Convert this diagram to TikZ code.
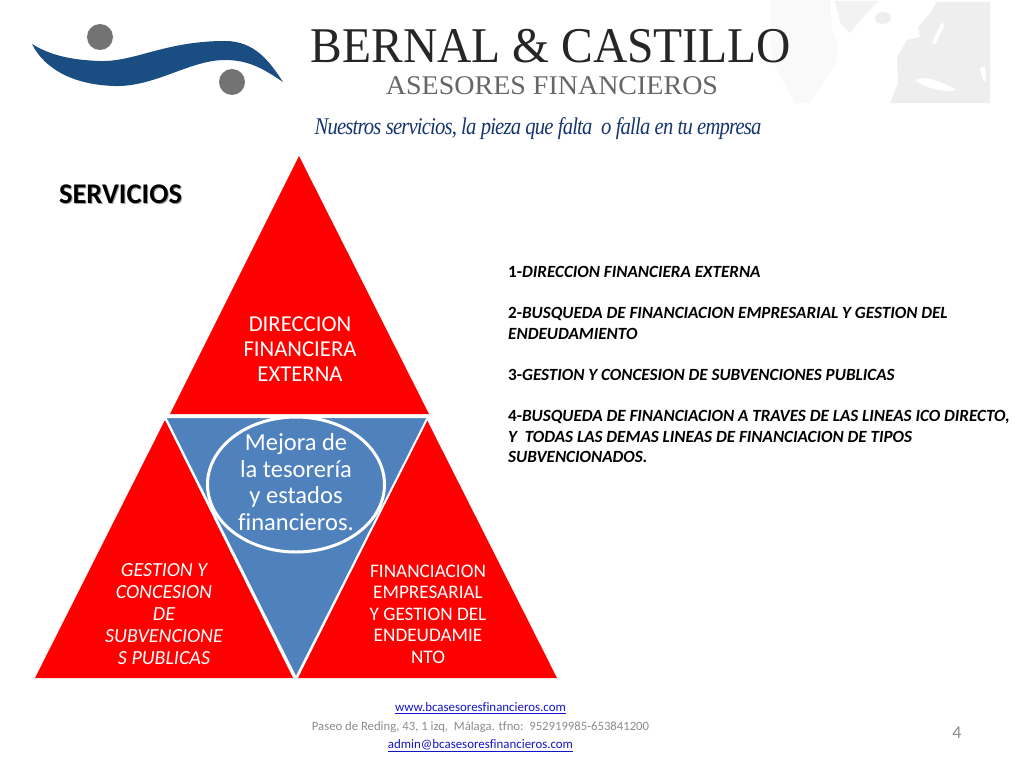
\documentclass[tikz,border=0pt]{standalone}
\usepackage{graphicx}
\usepackage{fontspec}
\setmainfont[Ligatures=NoCommon]{Carlito}
\newfontfamily\serifface{Liberation Serif}
\usetikzlibrary{shapes.geometric}
\definecolor{tri}{RGB}{255,0,0}
\definecolor{blu}{RGB}{79,129,189}
\definecolor{navy}{RGB}{23,54,110}
\definecolor{swoosh}{RGB}{26,78,130}
\definecolor{ball}{RGB}{115,115,115}
\definecolor{foot}{RGB}{140,140,140}
\definecolor{lnk}{RGB}{20,20,200}
\definecolor{mapc}{RGB}{238,238,238}
\definecolor{mapf}{RGB}{249,249,249}
\tikzset{
  x=1pt,y=-1pt,
  tlabel/.style={text=white,align=center,inner sep=0pt,font=\fontsize{22.7}{25}\selectfont},
  slabel/.style={text=white,align=center,inner sep=0pt,font=\fontsize{20}{22}\selectfont\itshape},
  flabel/.style={text=white,align=center,inner sep=0pt,font=\fontsize{19.2}{21.5}\selectfont},
  foottext/.style={inner sep=0pt,font=\fontsize{12.9}{15}\selectfont},
  tripiece/.style={fill=tri,draw=none},
}
\begin{document}
\begin{tikzpicture}
\useasboundingbox (0,0) rectangle (1024,768);
\fill[white] (0,0) rectangle (1024,768);
% map backdrop
\fill[mapf] (770,0) -- (830,0) -- (832,28) -- (838,45) -- (836,62) -- (810,103) -- (795,103) -- (772,60) -- cycle;
\fill[mapc!75] (835,1) -- (878,1) -- (863,17) -- (850,33) -- (840,23) -- cycle;
\fill[mapc] (883,18) ellipse (8 and 6);
\fill[mapc] (937,2) -- (990,2) -- (990,103) -- (890,103) -- (898,83) -- (897,57) -- (907,40) -- (920,37) -- (918,27) -- (930,13) -- cycle;
\fill[white] (915,80) .. controls (930,74) and (945,85) .. (957,90) .. controls (945,93) and (925,88) .. (915,80) -- cycle;
\fill[white] (942,22) -- (944,26) -- (935,45) -- (932,42) -- cycle;
\fill[white] (980,68) -- (985,66) -- (986,82) -- (983,80) -- cycle;
% logo
\fill[swoosh] (32,44) .. controls (50,55) and (70,60) .. (100,61) .. controls (135,62) and (165,41) .. (225,41) .. controls (255,41) and (270,62) .. (283,82) .. controls (265,70) and (250,60) .. (225,60) .. controls (190,60) and (155,87) .. (115,86) .. controls (75,85) and (45,70) .. (32,44) -- cycle;
\fill[ball] (100,37) circle (13);
\fill[ball] (232,82) circle (13);
\node[inner sep=0pt,text=black!85] (brand) at (551,46) {\scalebox{0.95}[1]{\serifface\fontsize{50}{50}\selectfont BERNAL \& CASTILLO}};
\node[inner sep=0pt,text=black!60] (sub) at (552,86) {\scalebox{1.037}[1]{\serifface\fontsize{27}{27}\selectfont ASESORES FINANCIEROS}};
\node[inner sep=0pt,text=navy] (slogan) at (538,129) {\scalebox{0.86}[1]{\serifface\itshape\fontsize{24}{24}\selectfont\addfontfeatures{LetterSpace=-4}Nuestros servicios, la pieza que falta\ \ o falla en tu empresa}};
% heading
\node[inner sep=0pt,text=black!35] (headshadow) at (121.5,195.5) {\bfseries\fontsize{28.5}{28.5}\selectfont SERVICIOS};
\node[inner sep=0pt,text=black] (heading) at (120.5,194) {\bfseries\fontsize{28.5}{28.5}\selectfont SERVICIOS};
% pyramid
\fill[tripiece] (299,156) -- (429,414) -- (170,414) -- cycle;
\fill[tripiece] (165,420) -- (293,678) -- (35,678) -- cycle;
\fill[tripiece] (427,420) -- (557,678) -- (298,678) -- cycle;
\fill[blu,draw=white,line width=2pt,line join=miter] (165,417) -- (428,417) -- (296,678) -- cycle;
\node[ellipse,draw=white,line width=3pt,fill=blu,minimum width=177pt,minimum height=135pt,inner sep=0pt] (core) at (296,484.5) {};
\node[text=white,align=center,inner sep=0pt,font=\fontsize{24.5}{26.7}\selectfont] (coretext) at (296,482) {Mejora de\\la tesorería\\y estados\\financieros.};
\node[tlabel] (top) at (300,349.5) {DIRECCION\\FINANCIERA\\EXTERNA};
\node[slabel] (left) at (164,614.5) {GESTION Y\\CONCESION\\DE\\SUBVENCIONE\\S PUBLICAS};
\node[flabel] (right) at (428,614) {FINANCIACION\\EMPRESARIAL\\Y GESTION DEL\\ENDEUDAMIE\\NTO};
% list
\node[anchor=north west,inner sep=0pt,align=left,text=black,font=\fontsize{17.1}{20.6}\selectfont\bfseries] (list) at (508,266) {1-{\itshape DIRECCION FINANCIERA EXTERNA}\\[20.6pt]2-{\itshape BUSQUEDA DE FINANCIACION EMPRESARIAL Y GESTION DEL}\\{\itshape ENDEUDAMIENTO}\\[20.6pt]3-{\itshape GESTION Y CONCESION DE SUBVENCIONES PUBLICAS}\\[20.6pt]4-{\itshape BUSQUEDA DE FINANCIACION A TRAVES DE LAS LINEAS ICO DIRECTO,}\\{\itshape Y\ \ TODAS LAS DEMAS LINEAS DE FINANCIACION DE TIPOS}\\{\itshape SUBVENCIONADOS.}};
% footer
\node[foottext,text=lnk] (web) at (480.5,708.5) {\underline{www.bcasesoresfinancieros.com}};
\node[foottext,text=foot,font=\fontsize{12.7}{15}\selectfont] (addr) at (480.5,727) {Paseo de Reding, 43, 1 izq,\ \ Málaga. tfno:\ \ 952919985-653841200};
\node[foottext,text=lnk] (mail) at (480.5,745.5) {\underline{admin@bcasesoresfinancieros.com}};
\node[inner sep=0pt,text=foot,font=\fontsize{18}{18}\selectfont] (page) at (957,733) {4};
\end{tikzpicture}
\end{document}
